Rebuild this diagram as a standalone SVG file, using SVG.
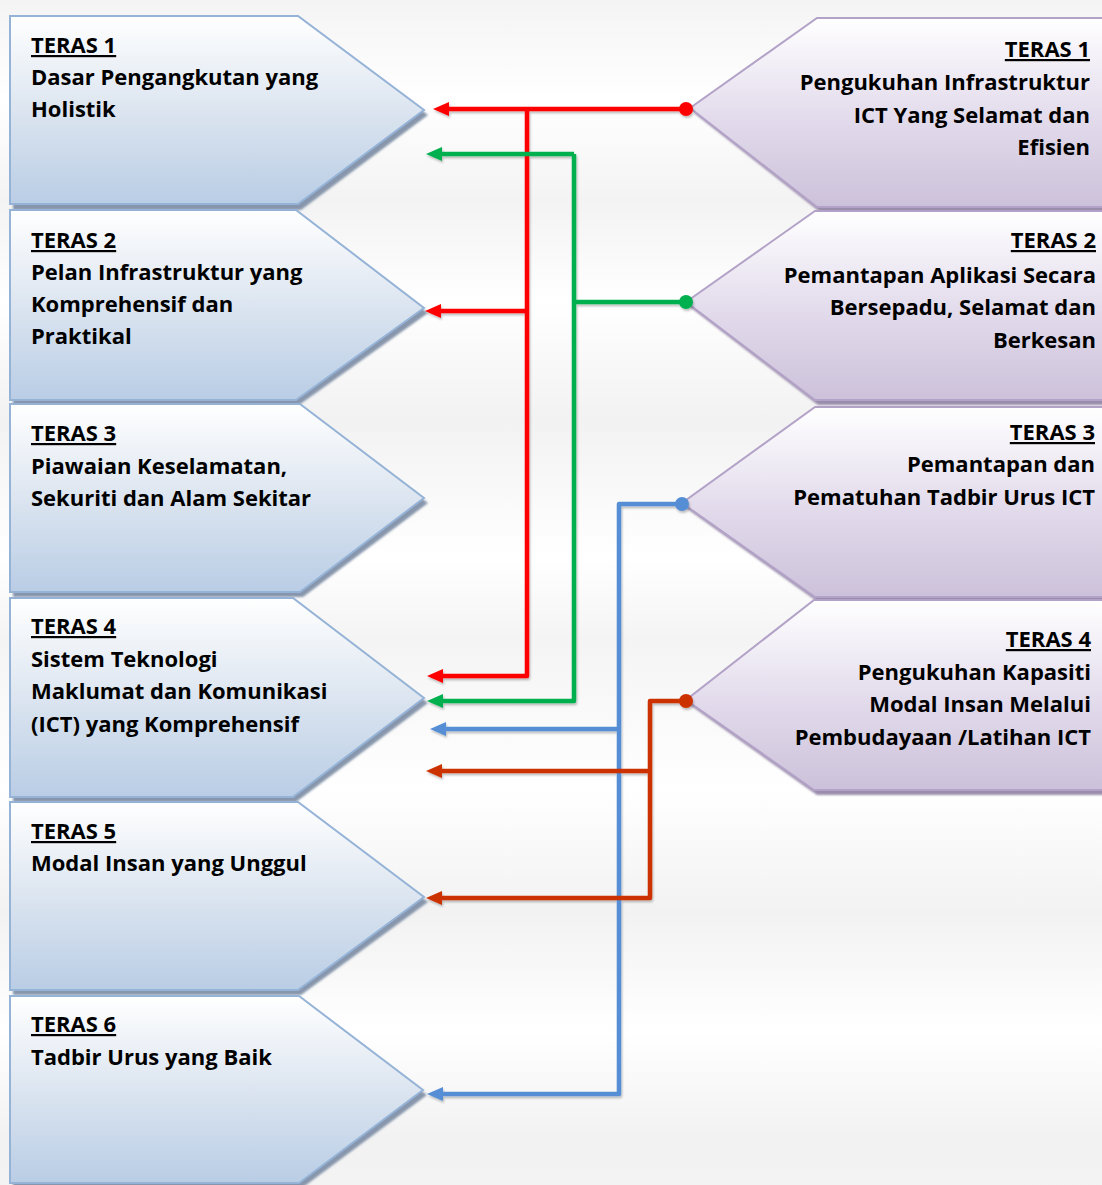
<svg xmlns="http://www.w3.org/2000/svg" width="1102" height="1185" viewBox="0 0 1102 1185">
<defs>
<linearGradient id="bg" x1="0" y1="0" x2="0" y2="1185" gradientUnits="userSpaceOnUse">
<stop offset="0" stop-color="#f4f4f4"/>
<stop offset="0.085" stop-color="#ffffff"/>
<stop offset="0.17" stop-color="#f3f3f3"/>
<stop offset="0.255" stop-color="#ffffff"/>
<stop offset="0.355" stop-color="#f2f2f2"/>
<stop offset="0.47" stop-color="#ffffff"/>
<stop offset="0.54" stop-color="#f4f4f4"/>
<stop offset="0.665" stop-color="#ffffff"/>
<stop offset="0.77" stop-color="#f2f2f2"/>
<stop offset="0.87" stop-color="#ffffff"/>
<stop offset="0.96" stop-color="#f2f2f2"/>
<stop offset="1" stop-color="#f3f3f3"/>
</linearGradient>
<linearGradient id="blueFill" x1="0" y1="0" x2="0" y2="1">
<stop offset="0" stop-color="#ffffff"/>
<stop offset="0.5" stop-color="#dce5f0"/>
<stop offset="1" stop-color="#b9cde5"/>
</linearGradient>
<linearGradient id="purpleFill" x1="0" y1="0" x2="0" y2="1">
<stop offset="0" stop-color="#ffffff"/>
<stop offset="0.5" stop-color="#e4dded"/>
<stop offset="1" stop-color="#ccc1da"/>
</linearGradient>
<filter id="soft" x="-5%" y="-5%" width="110%" height="110%">
<feGaussianBlur stdDeviation="0.8"/>
</filter>
<filter id="lineShadow" x="-10%" y="-10%" width="120%" height="120%">
<feDropShadow dx="1" dy="2" stdDeviation="1" flood-color="#000" flood-opacity="0.25"/>
</filter>
<marker id="arR" markerUnits="userSpaceOnUse" markerWidth="16" markerHeight="14" refX="2" refY="7" orient="auto"><path d="M0,0 L16,7 L0,14 z" fill="#ff0000"/></marker>
<marker id="arG" markerUnits="userSpaceOnUse" markerWidth="16" markerHeight="14" refX="2" refY="7" orient="auto"><path d="M0,0 L16,7 L0,14 z" fill="#00b050"/></marker>
<marker id="arB" markerUnits="userSpaceOnUse" markerWidth="16" markerHeight="14" refX="2" refY="7" orient="auto"><path d="M0,0 L16,7 L0,14 z" fill="#558ed5"/></marker>
<marker id="arO" markerUnits="userSpaceOnUse" markerWidth="16" markerHeight="14" refX="2" refY="7" orient="auto"><path d="M0,0 L16,7 L0,14 z" fill="#cc3300"/></marker>
</defs>
<style>
.lshape{fill:url(#blueFill);stroke:#95b3d7;stroke-width:2}
.lshadow{fill:#8796ac;filter:url(#soft)}
.rshape{fill:url(#purpleFill);stroke:#b3a2c7;stroke-width:2}
.rshadow{fill:#9a8cab;filter:url(#soft)}
text{font-family:"Open Sans","Noto Sans","DejaVu Sans",sans-serif;font-weight:bold;font-size:22px;fill:#000}
.hd{text-decoration:underline}
.r{text-anchor:end}
.ln{fill:none;stroke-width:4.5;stroke-linejoin:round}
</style>
<rect x="0" y="0" width="1102" height="1185" fill="url(#bg)"/>

<g id="left1">
<polygon class="lshadow" points="13,21 301,21 428,115 301,210 13,210"/>
<polygon class="lshape" points="10,16 298,16 424,110 298,204 10,204"/>
<text x="31" y="53" class="hd">TERAS 1</text>
<text x="31" y="85">Dasar Pengangkutan yang</text>
<text x="31" y="117">Holistik</text>
</g>
<g id="left2">
<polygon class="lshadow" points="13,215 299,215 428,313 299,405 13,405"/>
<polygon class="lshape" points="10,210 296,210 424,308 296,400 10,400"/>
<text x="31" y="248" class="hd">TERAS 2</text>
<text x="31" y="280">Pelan Infrastruktur yang</text>
<text x="31" y="312">Komprehensif dan</text>
<text x="31" y="344">Praktikal</text>
</g>
<g id="left3">
<polygon class="lshadow" points="13,409 303,409 428,503 303,597 13,597"/>
<polygon class="lshape" points="10,404 300,404 424,498 300,592 10,592"/>
<text x="31" y="441" class="hd">TERAS 3</text>
<text x="31" y="474">Piawaian Keselamatan,</text>
<text x="31" y="506">Sekuriti dan Alam Sekitar</text>
</g>
<g id="left4">
<polygon class="lshadow" points="13,603 296,603 428,703 296,802 13,802"/>
<polygon class="lshape" points="10,598 293,598 424,698 293,797 10,797"/>
<text x="31" y="634" class="hd">TERAS 4</text>
<text x="31" y="667">Sistem Teknologi</text>
<text x="31" y="699">Maklumat dan Komunikasi</text>
<text x="31" y="732">(ICT) yang Komprehensif</text>
</g>
<g id="left5">
<polygon class="lshadow" points="13,807 301,807 428,902 301,995 13,995"/>
<polygon class="lshape" points="10,802 298,802 424,897 298,990 10,990"/>
<text x="31" y="839" class="hd">TERAS 5</text>
<text x="31" y="871">Modal Insan yang Unggul</text>
</g>
<g id="left6">
<polygon class="lshadow" points="13,1001 302,1001 427,1095 302,1188 13,1188"/>
<polygon class="lshape" points="10,996 299,996 423,1090 299,1183 10,1183"/>
<text x="31" y="1032" class="hd">TERAS 6</text>
<text x="31" y="1065">Tadbir Urus yang Baik</text>
</g>

<g id="right1">
<polygon class="rshadow" points="820,23 1110,23 1110,212 820,212 694,113"/>
<polygon class="rshape" points="817,18 1110,18 1110,207 817,207 690,108"/>
<text x="1090" y="57" class="hd r">TERAS 1</text>
<text x="1090" y="90" class="r">Pengukuhan Infrastruktur</text>
<text x="1090" y="123" class="r">ICT Yang Selamat dan</text>
<text x="1090" y="155" class="r">Efisien</text>
</g>
<g id="right2">
<polygon class="rshadow" points="818,216 1110,216 1110,405 818,405 690,307"/>
<polygon class="rshape" points="815,211 1110,211 1110,400 815,400 686,302"/>
<text x="1096" y="248" class="hd r">TERAS 2</text>
<text x="1096" y="283" class="r">Pemantapan Aplikasi Secara</text>
<text x="1096" y="315" class="r">Bersepadu, Selamat dan</text>
<text x="1096" y="348" class="r">Berkesan</text>
</g>
<g id="right3">
<polygon class="rshadow" points="818,412 1110,412 1110,602 818,602 686,508"/>
<polygon class="rshape" points="815,407 1110,407 1110,597 815,597 682,503"/>
<text x="1095" y="440" class="hd r">TERAS 3</text>
<text x="1095" y="472" class="r">Pemantapan dan</text>
<text x="1095" y="505" class="r">Pematuhan Tadbir Urus ICT</text>
</g>
<g id="right4">
<polygon class="rshadow" points="817,605 1110,605 1110,795 817,795 690,705"/>
<polygon class="rshape" points="814,600 1110,600 1110,790 814,790 686,700"/>
<text x="1091" y="647" class="hd r">TERAS 4</text>
<text x="1091" y="680" class="r">Pengukuhan Kapasiti</text>
<text x="1091" y="712" class="r">Modal Insan Melalui</text>
<text x="1091" y="745" class="r">Pembudayaan /Latihan ICT</text>
</g>

<g id="connectors" filter="url(#lineShadow)">
<path class="ln" stroke="#ff0000" d="M686,109 H447" marker-end="url(#arR)"/>
<path class="ln" stroke="#ff0000" d="M527,109 V676 H441" marker-end="url(#arR)"/>
<path class="ln" stroke="#ff0000" d="M527,311 H439" marker-end="url(#arR)"/>
<circle cx="686" cy="109" r="7" fill="#ff0000"/>
<path class="ln" stroke="#00b050" d="M686,302 H574"/>
<path class="ln" stroke="#00b050" d="M574,154 V701 H441" marker-end="url(#arG)"/>
<path class="ln" stroke="#00b050" d="M574,154 H440" marker-end="url(#arG)"/>
<circle cx="686" cy="302" r="7" fill="#00b050"/>
<path class="ln" stroke="#558ed5" d="M682,504 H619 V1094 H441" marker-end="url(#arB)"/>
<path class="ln" stroke="#558ed5" d="M619,729 H444" marker-end="url(#arB)"/>
<circle cx="682" cy="504" r="7" fill="#558ed5"/>
<path class="ln" stroke="#cc3300" d="M686,701 H650 V898 H440" marker-end="url(#arO)"/>
<path class="ln" stroke="#cc3300" d="M650,771 H440" marker-end="url(#arO)"/>
<circle cx="686" cy="701" r="7" fill="#cc3300"/>
</g>
</svg>
